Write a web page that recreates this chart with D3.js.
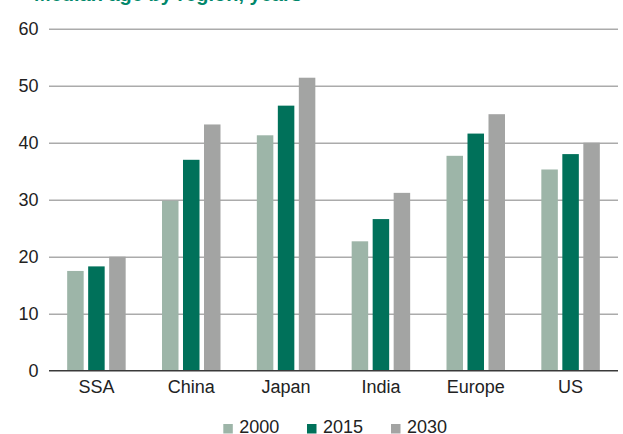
<!DOCTYPE html>
<html>
<head>
<meta charset="utf-8">
<script src="https://cdn.jsdelivr.net/npm/d3@7"></script>
<style>
  html, body { margin: 0; padding: 0; background: #fff; }
  svg { display: block; font-family: "Liberation Sans", Arial, Helvetica, sans-serif; }
</style>
</head>
<body>
<svg id="chart" width="623" height="434"></svg>
<script>
const titleText = "Median age by region, years";
const categories = ["SSA", "China", "Japan", "India", "Europe", "US"];
const seriesNames = ["2000", "2015", "2030"];
const values2000 = [17.5, 29.8, 41.3, 22.7, 37.7, 35.3];
const values2015 = [18.3, 37.0, 46.5, 26.6, 41.6, 38.0];
const values2030 = [20.0, 43.2, 51.4, 31.2, 45.0, 40.0];
const yTicks = [0, 10, 20, 30, 40, 50, 60];

const seriesValues = [values2000, values2015, values2030];
const colors = ["#9db5a8", "#00715a", "#a3a4a3"];

const svg = d3.select("#chart");
const plotLeft = 49, plotRight = 618, plotTop = 28.7, plotBottom = 370.7;

const x0 = d3.scaleBand().domain(categories).range([plotLeft, plotRight]).padding(0);
const groupW = 58.5;
const x1 = d3.scaleBand().domain(seriesNames).range([0, groupW]).paddingInner(0.214).paddingOuter(0);
const y = d3.scaleLinear().domain([0, 60]).range([plotBottom, plotTop]);

// title (mostly cut off at top)
svg.append("text")
  .attr("x", 34).attr("y", 0.5)
  .attr("font-size", 20).attr("font-weight", "bold")
  .attr("fill", "#00876a")
  .text(titleText);

// gridlines + y labels
const yAxis = d3.axisLeft(y).tickValues(yTicks).tickSize(-(plotRight - plotLeft)).tickPadding(10);
const gy = svg.append("g").attr("transform", `translate(${plotLeft},0)`).call(yAxis);
gy.select(".domain").remove();
gy.selectAll(".tick line").attr("stroke", "#ababab").attr("stroke-width", 1.4);
gy.selectAll(".tick text").attr("font-size", 18).attr("fill", "#222").attr("x", -10.5)
  .attr("font-family", "'Liberation Sans', Arial, sans-serif");
gy.selectAll(".tick").filter(d => d === 0).select("line").remove();

// bars
const rows = categories.map((c, i) => ({ cat: c, vals: seriesNames.map((s, j) => ({ s, j, v: seriesValues[j][i] })) }));
const groups = svg.append("g").selectAll("g").data(rows).join("g")
  .attr("transform", d => `translate(${x0(d.cat) + (x0.bandwidth() - groupW) / 2},0)`);
groups.selectAll("rect").data(d => d.vals).join("rect")
  .attr("x", d => x1(d.s))
  .attr("width", x1.bandwidth())
  .attr("y", d => y(d.v))
  .attr("height", d => y(0) - y(d.v))
  .attr("fill", d => colors[d.j]);

// x axis
const xAxis = d3.axisBottom(x0).tickSize(0).tickPadding(10);
const gx = svg.append("g").attr("transform", `translate(0,${plotBottom})`).call(xAxis);
gx.select(".domain").attr("stroke", "#3a3a3a").attr("stroke-width", 1.5)
  .attr("d", `M${plotLeft},0H${plotRight}`);
gx.selectAll(".tick text").attr("font-size", 18).attr("fill", "#222")
  .attr("font-family", "'Liberation Sans', Arial, sans-serif");

// legend
const legendX = [223.3, 307, 391];
const leg = svg.append("g").selectAll("g").data(seriesNames).join("g")
  .attr("transform", (d, i) => `translate(${legendX[i]},424)`);
leg.append("rect").attr("width", 9.5).attr("height", 9.5).attr("fill", (d, i) => colors[i]);
leg.append("text").attr("x", 16).attr("y", 9.3).attr("font-size", 18).attr("fill", "#222").text(d => d);
</script>
</body>
</html>
